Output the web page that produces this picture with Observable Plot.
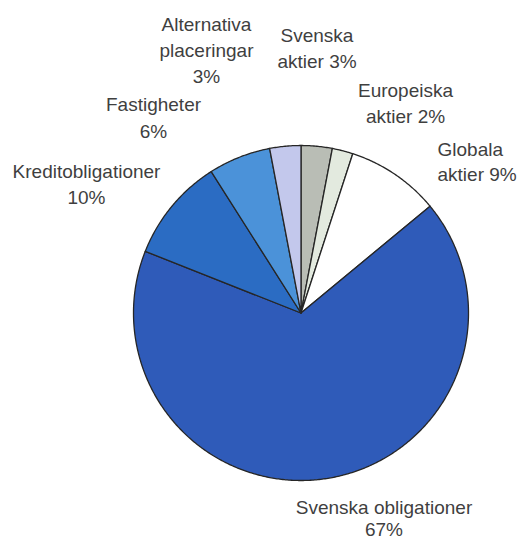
<!DOCTYPE html>
<html>
<head>
<meta charset="utf-8">
<script src="https://cdn.jsdelivr.net/npm/d3@7"></script>
<script src="https://cdn.jsdelivr.net/npm/@observablehq/plot@0.6"></script>
<style>
  html, body { margin: 0; padding: 0; background: #fff; overflow: hidden; }
  #chart svg { display: block; }
</style>
</head>
<body>
<div id="chart"></div>
<script>
// ---- Data (clockwise from 12 o'clock) ----
const categories = ["Svenska aktier", "Europeiska aktier", "Globala aktier", "Svenska obligationer", "Kreditobligationer", "Fastigheter", "Alternativa placeringar"];
const shares = [3, 2, 9, 67, 10, 6, 3];
const labelTexts = ["Svenska\naktier 3%", "Europeiska\naktier 2%", "Globala\naktier 9%", "Svenska obligationer\n67%", "Kreditobligationer\n10%", "Fastigheter\n6%", "Alternativa\nplaceringar\n3%"];
const sliceColors = ["#b9bdb5", "#e3eadf", "#ffffff", "#2f5bb9", "#2b6cc3", "#4b92d9", "#c3c8ec"];

// ---- Layout ----
const W = 521, H = 540;
const cx = 300.5, cy = 312.5, R = 167.5;
const fontSize = 19;
// label placement in pixels: [anchor x, first baseline, line spacing, text anchor]
const labelLayout = [
  [316.5, 41, 26, "middle"],
  [405, 96, 26, "middle"],
  [437, 155, 25, "start"],
  [383.5, 513, 22, "middle"],
  [86, 177, 26, "middle"],
  [153, 110, 27, "middle"],
  [206, 30, 26, "middle"]
];

// ---- Build slice polygons from the shares ----
const total = d3.sum(shares);
const polyRows = [];
let cum = 0;
shares.forEach((v, i) => {
  const a0 = cum / total * 2 * Math.PI;
  cum += v;
  const a1 = cum / total * 2 * Math.PI;
  const n = Math.max(2, Math.ceil((a1 - a0) / (Math.PI / 360)));
  polyRows.push({name: categories[i], color: sliceColors[i], x: 0, y: 0});
  for (let k = 0; k <= n; k++) {
    const a = a0 + (a1 - a0) * k / n;
    polyRows.push({name: categories[i], color: sliceColors[i], x: Math.sin(a), y: -Math.cos(a)});
  }
  polyRows.push({name: categories[i], color: sliceColors[i], x: 0, y: 0});
});

// ---- Label rows (one row per text line) ----
const labelRows = [];
labelTexts.forEach((t, i) => {
  const [lx, b, sp, anchor] = labelLayout[i];
  t.split("\n").forEach((line, j) => {
    labelRows.push({text: line, anchor, x: (lx - cx) / R, y: (b + j * sp - cy) / R});
  });
});

const fontFamily = "'Liberation Sans', Arial, Helvetica, sans-serif";

const chart = Plot.plot({
  width: W,
  height: H,
  margin: 0,
  style: {background: "#fff", fontFamily},
  x: {domain: [-cx / R, (W - cx) / R], range: [0, W], axis: null},
  y: {domain: [-cy / R, (H - cy) / R], range: [0, H], axis: null},
  color: {type: "identity"},
  marks: [
    Plot.line(polyRows, {x: "x", y: "y", z: "name", fill: "color", stroke: "#262626", strokeWidth: 1.3, strokeLinejoin: "round", curve: "linear"}),
    Plot.text(labelRows.filter(d => d.anchor === "middle"), {x: "x", y: "y", text: "text", textAnchor: "middle", lineAnchor: "bottom", fontSize, fill: "#3f3f3f"}),
    Plot.text(labelRows.filter(d => d.anchor === "start"), {x: "x", y: "y", text: "text", textAnchor: "start", lineAnchor: "bottom", fontSize, fill: "#3f3f3f"})
  ]
});
document.getElementById("chart").appendChild(chart);
</script>
</body>
</html>
